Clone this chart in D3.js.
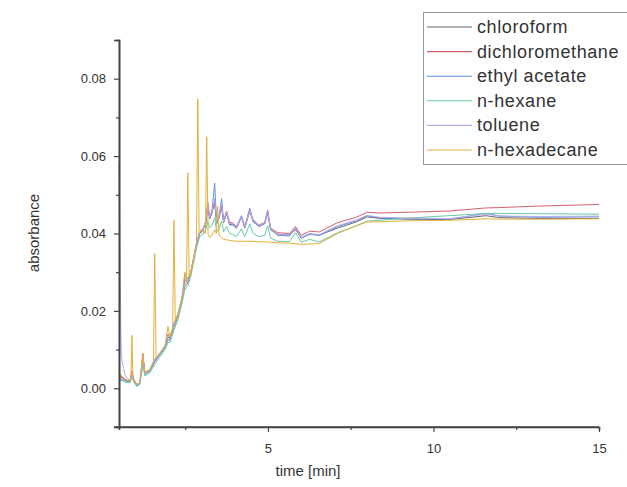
<!DOCTYPE html>
<html>
<head>
    <meta charset="UTF-8" />
    <title>absorbance vs time</title>
    <script src="https://cdn.jsdelivr.net/npm/d3@7"></script>
    <style>
        body { margin: 0; background: #fff; }
        text { font-family: "Liberation Sans", Arial, sans-serif; fill: #333; }
    </style>
</head>
<body>
<div id="chart"></div>
<script>
    // series names as in the legend
    const names = ['chloroform', 'dichloromethane', 'ethyl acetate', 'n-hexane', 'toluene', 'n-hexadecane'];
    const colors = ['#666666', '#d65f6d', '#5b8ee6', '#66cba3', '#bbaae8', '#e3b03c'];

    const xMajor = [5, 10, 15];
    const xMinor = [2.5, 7.5, 12.5];
    const yMajor = [0, 0.02, 0.04, 0.06, 0.08];
    const yMinor = [0.01, 0.03, 0.05, 0.07, 0.09];

    // [time in min, absorbance]
    const chloroform = [[0.50,0.0035],[0.60,0.0028],[0.70,0.0022],[0.83,0.0019],[0.89,0.0040],[0.95,0.0022],[1.04,0.0010],[1.13,0.0014],[1.22,0.0080],[1.28,0.0040],[1.43,0.0046],[1.58,0.0070],[1.73,0.0088],[1.89,0.0108],[1.98,0.0132],[2.04,0.0128],[2.16,0.0162],[2.28,0.0188],[2.40,0.0228],[2.49,0.0265],[2.58,0.0272],[2.67,0.0298],[2.76,0.0336],[2.85,0.0376],[2.94,0.0402],[3.03,0.0408],[3.12,0.0425],[3.18,0.0468],[3.24,0.0438],[3.30,0.0452],[3.39,0.0478],[3.45,0.0428],[3.52,0.0440],[3.60,0.0468],[3.66,0.0428],[3.75,0.0452],[3.84,0.0424],[3.93,0.0423],[4.05,0.0414],[4.20,0.0442],[4.30,0.0414],[4.45,0.0458],[4.55,0.0432],[4.72,0.0418],[4.90,0.0425],[4.99,0.0452],[5.08,0.0410],[5.30,0.0398],[5.65,0.0396],[5.83,0.0410],[6.01,0.0388],[6.25,0.0398],[6.55,0.0396],[7.10,0.0414],[7.67,0.0430],[8.00,0.0443],[8.36,0.0439],[9.27,0.0437],[10.47,0.0436],[11.58,0.0446],[12.0,0.0441],[13.2,0.0439],[15.0,0.0439]];

    const dichloromethane = [[0.50,0.0030],[0.60,0.0026],[0.70,0.0021],[0.83,0.0018],[0.89,0.0045],[0.95,0.0021],[1.04,0.0009],[1.13,0.0014],[1.22,0.0090],[1.28,0.0042],[1.43,0.0048],[1.58,0.0075],[1.73,0.0090],[1.89,0.0110],[1.98,0.0140],[2.04,0.0132],[2.16,0.0168],[2.28,0.0192],[2.40,0.0232],[2.49,0.0280],[2.58,0.0278],[2.67,0.0302],[2.76,0.0340],[2.85,0.0380],[2.94,0.0405],[3.03,0.0410],[3.12,0.0432],[3.18,0.0482],[3.24,0.0445],[3.30,0.0455],[3.39,0.0485],[3.45,0.0432],[3.52,0.0445],[3.60,0.0472],[3.66,0.0432],[3.75,0.0458],[3.84,0.0428],[3.93,0.0428],[4.05,0.0418],[4.20,0.0445],[4.30,0.0418],[4.45,0.0462],[4.55,0.0436],[4.72,0.0422],[4.90,0.0428],[4.99,0.0458],[5.08,0.0414],[5.30,0.0402],[5.65,0.0400],[5.83,0.0418],[6.01,0.0395],[6.25,0.0406],[6.55,0.0404],[7.10,0.0428],[7.67,0.0442],[8.00,0.0455],[8.36,0.0453],[9.27,0.0455],[10.47,0.0458],[11.58,0.0466],[12.0,0.0467],[13.2,0.0471],[15.0,0.0475]];

    const ethylAcetate = [[0.50,0.0025],[0.60,0.0022],[0.70,0.0018],[0.83,0.0016],[0.89,0.0035],[0.95,0.0018],[1.04,0.0006],[1.13,0.0012],[1.22,0.0070],[1.28,0.0036],[1.43,0.0044],[1.58,0.0068],[1.73,0.0086],[1.89,0.0105],[1.98,0.0125],[2.04,0.0124],[2.16,0.0158],[2.28,0.0185],[2.40,0.0225],[2.49,0.0295],[2.58,0.0282],[2.67,0.0300],[2.76,0.0334],[2.85,0.0372],[2.94,0.0400],[3.03,0.0406],[3.12,0.0428],[3.18,0.0462],[3.24,0.0440],[3.30,0.0450],[3.39,0.0530],[3.45,0.0425],[3.52,0.0442],[3.60,0.0490],[3.66,0.0430],[3.75,0.0455],[3.84,0.0422],[3.93,0.0422],[4.05,0.0415],[4.20,0.0446],[4.30,0.0415],[4.45,0.0465],[4.55,0.0430],[4.72,0.0420],[4.90,0.0426],[4.99,0.0460],[5.08,0.0410],[5.30,0.0395],[5.65,0.0394],[5.83,0.0414],[6.01,0.0388],[6.25,0.0399],[6.55,0.0395],[7.10,0.0418],[7.67,0.0433],[8.00,0.0446],[8.36,0.0440],[9.27,0.0438],[10.47,0.0437],[11.58,0.0452],[12.0,0.0445],[13.2,0.0442],[15.0,0.0443]];

    const nHexane = [[0.50,0.0022],[0.60,0.0020],[0.70,0.0016],[0.83,0.0014],[0.89,0.0030],[0.95,0.0016],[1.04,0.0005],[1.13,0.0010],[1.22,0.0060],[1.28,0.0032],[1.43,0.0040],[1.58,0.0062],[1.73,0.0080],[1.89,0.0100],[1.98,0.0118],[2.04,0.0118],[2.16,0.0150],[2.28,0.0178],[2.40,0.0218],[2.49,0.0255],[2.58,0.0265],[2.67,0.0290],[2.76,0.0328],[2.85,0.0366],[2.94,0.0392],[3.03,0.0398],[3.12,0.0410],[3.18,0.0430],[3.24,0.0415],[3.30,0.0420],[3.39,0.0440],[3.45,0.0405],[3.52,0.0412],[3.60,0.0432],[3.66,0.0405],[3.75,0.0418],[3.84,0.0400],[3.93,0.0398],[4.05,0.0392],[4.20,0.0412],[4.30,0.0392],[4.45,0.0425],[4.55,0.0400],[4.72,0.0392],[4.90,0.0395],[4.99,0.0420],[5.08,0.0388],[5.30,0.0380],[5.65,0.0379],[5.83,0.0402],[6.01,0.0377],[6.25,0.0385],[6.55,0.0378],[7.10,0.0402],[7.67,0.0420],[8.00,0.0432],[8.36,0.0434],[9.27,0.0440],[10.47,0.0446],[11.58,0.0452],[12.0,0.0452],[13.2,0.0451],[15.0,0.0450]];

    const toluene = [[0.50,0.0580],[0.53,0.0350],[0.56,0.0120],[0.59,0.0070],[0.64,0.0052],[0.70,0.0030],[0.83,0.0020],[0.89,0.0038],[0.95,0.0020],[1.04,0.0010],[1.13,0.0014],[1.22,0.0078],[1.28,0.0040],[1.43,0.0047],[1.58,0.0072],[1.73,0.0089],[1.89,0.0109],[1.98,0.0135],[2.04,0.0130],[2.16,0.0164],[2.28,0.0190],[2.40,0.0230],[2.49,0.0272],[2.58,0.0276],[2.67,0.0300],[2.76,0.0338],[2.85,0.0378],[2.94,0.0403],[3.03,0.0410],[3.12,0.0430],[3.18,0.0475],[3.24,0.0442],[3.30,0.0455],[3.39,0.0490],[3.45,0.0430],[3.52,0.0444],[3.60,0.0478],[3.66,0.0430],[3.75,0.0455],[3.84,0.0426],[3.93,0.0426],[4.05,0.0416],[4.20,0.0444],[4.30,0.0416],[4.45,0.0460],[4.55,0.0434],[4.72,0.0420],[4.90,0.0427],[4.99,0.0455],[5.08,0.0412],[5.30,0.0397],[5.65,0.0397],[5.83,0.0412],[6.01,0.0390],[6.25,0.0400],[6.55,0.0397],[7.10,0.0420],[7.67,0.0435],[8.00,0.0447],[8.36,0.0442],[9.27,0.0440],[10.47,0.0438],[11.58,0.0450],[12.0,0.0445],[13.2,0.0444],[15.0,0.0445]];

    const nHexadecane = [[0.50,0.0040],[0.60,0.0030],[0.70,0.0022],[0.83,0.0018],[0.86,0.0020],[0.89,0.0137],[0.92,0.0025],[0.95,0.0020],[1.04,0.0010],[1.13,0.0015],[1.22,0.0085],[1.28,0.0040],[1.43,0.0048],[1.54,0.0070],[1.58,0.0348],[1.62,0.0078],[1.73,0.0090],[1.89,0.0110],[1.98,0.0160],[2.04,0.0132],[2.12,0.0155],[2.16,0.0434],[2.20,0.0172],[2.28,0.0192],[2.40,0.0235],[2.49,0.0300],[2.54,0.0275],[2.58,0.0557],[2.62,0.0285],[2.67,0.0300],[2.76,0.0336],[2.84,0.0375],[2.88,0.0748],[2.92,0.0400],[2.98,0.0410],[3.03,0.0405],[3.11,0.0400],[3.15,0.0650],[3.19,0.0398],[3.24,0.0390],[3.30,0.0395],[3.39,0.0410],[3.44,0.0400],[3.48,0.0470],[3.52,0.0395],[3.66,0.0385],[3.84,0.0382],[4.05,0.0380],[4.45,0.0380],[4.99,0.0378],[5.30,0.0376],[5.65,0.0375],[6.01,0.0372],[6.55,0.0374],[7.10,0.0400],[7.67,0.0420],[8.00,0.0430],[8.36,0.0430],[9.27,0.0433],[10.47,0.0434],[11.58,0.0438],[12.0,0.0437],[13.2,0.0437],[15.0,0.0438]];

    const allSeries = [chloroform, dichloromethane, ethylAcetate, nHexane, toluene, nHexadecane];

    const w = 627;
    const h = 487;

    const xScale = d3.scaleLinear().domain([0.5, 15]).range([119, 599]);
    const yScale = d3.scaleLinear().domain([-0.01, 0.09]).range([427, 40]);

    const svg = d3.select('#chart')
        .append('svg')
        .attr('width', w)
        .attr('height', h);

    svg.append('rect').attr('width', w).attr('height', h).attr('fill', '#fff');

    const line = d3.line()
        .x(d => xScale(d[0]))
        .y(d => yScale(d[1]));

    svg.append('g')
        .selectAll('path')
        .data(allSeries)
        .enter()
        .append('path')
        .attr('d', line)
        .attr('fill', 'none')
        .attr('stroke', (d, i) => colors[i])
        .attr('stroke-width', 1);

    // axes
    const xAxis = d3.axisBottom(xScale).tickValues(xMajor).tickSize(5).tickPadding(12).tickFormat(d3.format('d'));
    const xAxisMinor = d3.axisBottom(xScale).tickValues(xMinor).tickSize(3).tickFormat('');
    const yAxis = d3.axisLeft(yScale).tickValues(yMajor).tickSize(5).tickPadding(8).tickFormat(d3.format('.2f'));
    const yAxisMinor = d3.axisLeft(yScale).tickValues(yMinor).tickSize(3).tickFormat('');

    const gx = svg.append('g').attr('transform', 'translate(0,427)').call(xAxis);
    svg.append('g').attr('transform', 'translate(0,427)').call(xAxisMinor);
    const gy = svg.append('g').attr('transform', 'translate(119,0)').call(yAxis);
    svg.append('g').attr('transform', 'translate(119,0)').call(yAxisMinor);

    svg.selectAll('.domain').attr('stroke', '#444').attr('stroke-width', 1.6);
    svg.selectAll('.tick line').attr('stroke', '#444').attr('stroke-width', 1.2);
    svg.selectAll('.tick text')
        .attr('font-size', 13)
        .attr('font-family', '"Liberation Sans", Arial, sans-serif')
        .attr('fill', '#333');
    // bottom axis runs slightly past the corner like the original
    gx.select('.domain').attr('d', 'M114,0H599');

    svg.append('text')
        .attr('x', 308)
        .attr('y', 476)
        .attr('text-anchor', 'middle')
        .attr('font-size', 15)
        .text('time [min]');

    svg.append('text')
        .attr('transform', 'translate(39,233) rotate(-90)')
        .attr('text-anchor', 'middle')
        .attr('font-size', 15)
        .text('absorbance');

    // legend
    const legend = svg.append('g');
    legend.append('rect')
        .attr('x', 423.5)
        .attr('y', 12.5)
        .attr('width', 215)
        .attr('height', 152)
        .attr('fill', '#fff')
        .attr('stroke', '#999')
        .attr('stroke-width', 1);

    const rows = legend.selectAll('g.row')
        .data(names)
        .enter()
        .append('g')
        .attr('class', 'row')
        .attr('transform', (d, i) => 'translate(0,' + (27 + i * 24.6) + ')');

    rows.append('line')
        .attr('x1', 427).attr('x2', 472)
        .attr('y1', 0).attr('y2', 0)
        .attr('stroke', (d, i) => colors[i])
        .attr('stroke-width', 1.1);

    rows.append('text')
        .attr('x', 477)
        .attr('y', 6)
        .attr('font-size', 18)
        .attr('letter-spacing', 0.6)
        .attr('fill', '#222')
        .text(d => d);
</script>
</body>
</html>
